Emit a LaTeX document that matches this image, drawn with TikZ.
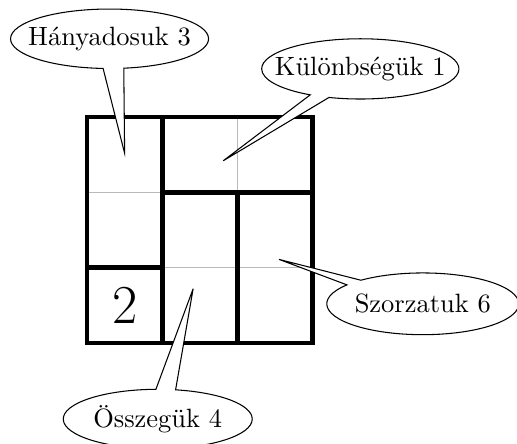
\documentclass[tikz,border=0pt]{standalone}
\usetikzlibrary{shapes.callouts}
\begin{document}
\begin{tikzpicture}[
  cage/.style={line width=1.8pt},
  cellline/.style={gray!55, line width=0.5pt},
  bubble/.style={ellipse callout, draw, fill=white, inner sep=0pt,
                 callout pointer arc=12},
]
\useasboundingbox (-1.155,-1.341) rectangle (5.711,4.555);

% cell grid
\draw[cellline] (0,0) grid (3,3);

% cage borders
\draw[cage] (0,0) rectangle (3,3);
\draw[cage] (1,0) -- (1,3);
\draw[cage] (1,2) -- (3,2);
\draw[cage] (2,0) -- (2,2);
\draw[cage] (0,1) -- (1,1);

% given digit
\node[font=\huge] (given) at (0.5,0.5) {2};

% targets of the callout pointers
\coordinate (tH) at (0.50,2.52);
\coordinate (tK) at (1.81,2.42);
\coordinate (tS) at (2.55,1.11);
\coordinate (tO) at (1.41,0.72);

% cage clues
\node[bubble, minimum width=2.63cm, minimum height=0.79cm,
      callout absolute pointer={(tH)}] (hany) at (0.30,4.04)
      {\makebox[0pt]{Hányadosuk 3}};
\node[bubble, minimum width=2.62cm, minimum height=0.80cm,
      callout absolute pointer={(tK)}] (kul) at (3.63,3.64)
      {\makebox[0pt]{Különbségük 1}};
\node[bubble, minimum width=2.55cm, minimum height=0.82cm,
      callout absolute pointer={(tS)}] (szor) at (4.46,0.52)
      {\makebox[0pt]{Szorzatuk 6}};
\node[bubble, minimum width=2.51cm, minimum height=0.79cm,
      callout absolute pointer={(tO)}] (ossz) at (0.94,-1.01)
      {\makebox[0pt]{Összegük 4}};
\end{tikzpicture}
\end{document}
